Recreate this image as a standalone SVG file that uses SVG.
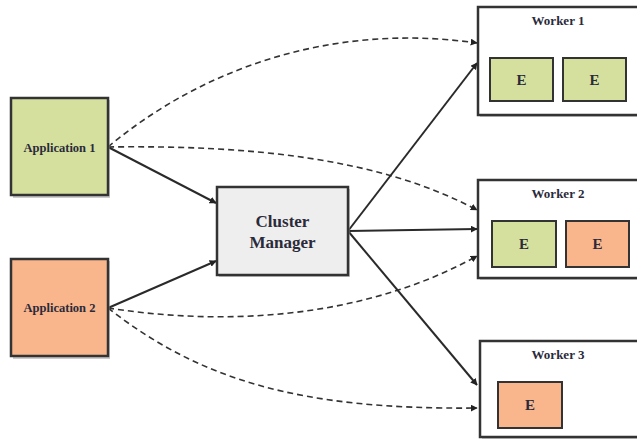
<svg xmlns="http://www.w3.org/2000/svg" width="637" height="440" viewBox="0 0 637 440">
<defs>
<marker id="ah" viewBox="0 0 10 10" refX="9" refY="5" markerWidth="7" markerHeight="7" markerUnits="userSpaceOnUse" orient="auto">
<path d="M0,0 L10,5 L0,10 z" fill="#222"/>
</marker>
</defs>
<style>
.box{stroke:#333;stroke-width:2.5}
.sh{fill:#999;opacity:0.5}
.lbl{font-family:"Liberation Serif","Times New Roman",serif;font-weight:bold;fill:#2a2a3a;text-anchor:middle}
.solid{fill:none;stroke:#2a2a2a;stroke-width:2;marker-end:url(#ah)}
.dash{fill:none;stroke:#333;stroke-width:1.6;stroke-dasharray:6,4;marker-end:url(#ah)}
.g{fill:#d5e09e}
.o{fill:#f9b58b}
.w{fill:#fff}
.ebox{stroke:#333;stroke-width:2}
</style>
<g id="connectors">
<path class="dash" d="M108,147 C200,70 330,22 477,43"/>
<path class="dash" d="M108,147 C250,145 380,158 477,210"/>
<path class="dash" d="M108,308 C250,330 380,310 477,256"/>
<path class="dash" d="M108,308 C200,380 300,410 477,408"/>
<path class="solid" d="M108,147 L216,203"/>
<path class="solid" d="M108,308 L216,261"/>
<path class="solid" d="M348,231 L477,63"/>
<path class="solid" d="M348,231 L477,229"/>
<path class="solid" d="M348,231 L477,385"/>
</g>
<g id="app1">
<rect class="sh" x="13" y="100" width="97" height="98"/>
<rect class="box g" x="11" y="98" width="97" height="97"/>
<text class="lbl" x="59.5" y="152" font-size="12.5">Application 1</text>
</g>
<g id="app2">
<rect class="sh" x="13" y="261" width="97" height="98"/>
<rect class="box o" x="11" y="259" width="97" height="97"/>
<text class="lbl" x="59.5" y="312" font-size="12.5">Application 2</text>
</g>
<g id="cluster">
<rect class="sh" x="219" y="189" width="131" height="88"/>
<rect class="box" fill="#eeeeee" x="217" y="187" width="131" height="88"/>
<text class="lbl" x="282.5" y="227" font-size="17">Cluster</text>
<text class="lbl" x="282.5" y="248" font-size="17">Manager</text>
</g>
<g id="worker1">
<rect class="sh" x="480" y="9" width="160" height="108"/>
<rect class="box w" x="478" y="7" width="162" height="108"/>
<text class="lbl" x="558" y="25" font-size="13">Worker 1</text>
<rect class="ebox g" x="490" y="58" width="63" height="43"/>
<text class="lbl" x="521.5" y="85" font-size="15">E</text>
<rect class="ebox g" x="563" y="58" width="63" height="43"/>
<text class="lbl" x="594.5" y="85" font-size="15">E</text>
</g>
<g id="worker2">
<rect class="sh" x="480" y="182" width="160" height="98"/>
<rect class="box w" x="478" y="180" width="162" height="98"/>
<text class="lbl" x="558" y="198" font-size="13">Worker 2</text>
<rect class="ebox g" x="492" y="221" width="64" height="46"/>
<text class="lbl" x="524" y="249" font-size="15">E</text>
<rect class="ebox o" x="566" y="221" width="63" height="46"/>
<text class="lbl" x="597.5" y="249" font-size="15">E</text>
</g>
<g id="worker3">
<rect class="sh" x="482" y="343" width="160" height="96"/>
<rect class="box w" x="480" y="341" width="162" height="96"/>
<text class="lbl" x="558" y="359" font-size="13">Worker 3</text>
<rect class="ebox o" x="498" y="382" width="64" height="46"/>
<text class="lbl" x="530" y="410" font-size="15">E</text>
</g>
</svg>
